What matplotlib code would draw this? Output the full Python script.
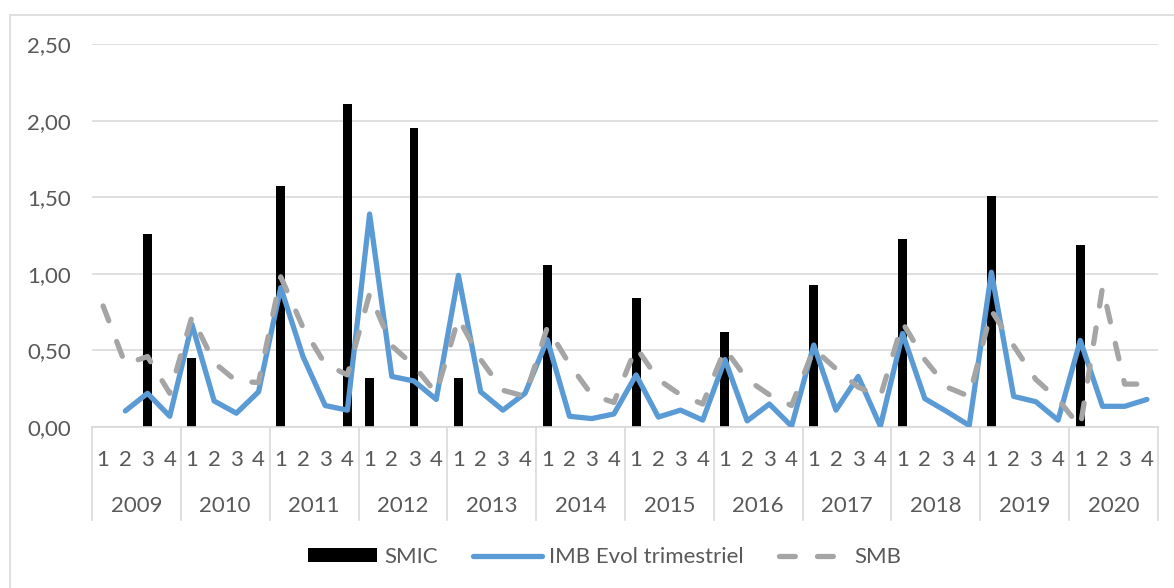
import matplotlib.pyplot as plt
from matplotlib.patches import Rectangle

plt.rcParams['font.family'] = ['Lato', 'DejaVu Sans']

years = ['2009', '2010', '2011', '2012', '2013', '2014',
         '2015', '2016', '2017', '2018', '2019', '2020']
quarters = ['1', '2', '3', '4']

# SMIC (bars), 0 = pas de barre
smic = [0, 0, 1.26, 0,
        0.45, 0, 0, 0,
        1.57, 0, 0, 2.11,
        0.32, 0, 1.95, 0,
        0.32, 0, 0, 0,
        1.06, 0, 0, 0,
        0.84, 0, 0, 0,
        0.62, 0, 0, 0,
        0.93, 0, 0, 0,
        1.23, 0, 0, 0,
        1.51, 0, 0, 0,
        1.19, 0, 0, 0]

imb = [None, 0.105, 0.22, 0.07,
       0.67, 0.17, 0.09, 0.23,
       0.91, 0.46, 0.14, 0.11,
       1.39, 0.33, 0.30, 0.18,
       0.99, 0.23, 0.11, 0.22,
       0.57, 0.07, 0.055, 0.085,
       0.34, 0.065, 0.11, 0.045,
       0.44, 0.04, 0.15, 0.005,
       0.535, 0.11, 0.33, 0.005,
       0.61, 0.185, 0.10, 0.01,
       1.01, 0.20, 0.165, 0.045,
       0.565, 0.135, 0.135, 0.18]

smb = [0.79, 0.41, 0.46, 0.22,
       0.72, 0.42, 0.30, 0.29,
       0.98, 0.65, 0.41, 0.34,
       0.87, 0.53, 0.40, 0.22,
       0.71, 0.44, 0.24, 0.20,
       0.65, 0.41, 0.21, 0.16,
       0.52, 0.31, 0.21, 0.15,
       0.51, 0.31, 0.21, 0.14,
       0.51, 0.38, 0.26, 0.20,
       0.68, 0.44, 0.26, 0.20,
       0.76, 0.53, 0.31, 0.18,
       0.00, 0.91, 0.28, 0.28]

x = list(range(len(smb)))
imb_plot = [float('nan') if v is None else v for v in imb]

txt = '#595959'
grid = '#D9D9D9'
fs = 16

fig = plt.figure(figsize=(11.74, 5.88), dpi=100)
ax = fig.add_axes([92/1174, 1-427/588, 1066/1174, 383/588])

b = ax.bar(x, smic, width=0.4, color='black', label='SMIC', zorder=2)
l1, = ax.plot(x, imb_plot, color='#5B9BD5', lw=3.8, solid_joinstyle='round',
              solid_capstyle='round', label='IMB Evol trimestriel', zorder=3)
l2, = ax.plot(x, smb, color='#A5A5A5', lw=3.8, dashes=(3.0, 4.2),
              dash_capstyle='round', dash_joinstyle='round', label='SMB', zorder=4)

ax.set_xlim(-0.5, len(x) - 0.5)
ax.set_ylim(0, 2.5)
ax.set_yticks([0, 0.5, 1.0, 1.5, 2.0, 2.5])
ax.set_yticklabels(['0,00', '0,50', '1,00', '1,50', '2,00', '2,50'])
ax.tick_params(axis='y', length=0, pad=15, labelsize=fs, labelcolor=txt)
ax.yaxis.grid(True, color=grid, lw=1.2, zorder=0)
ax.set_axisbelow(True)
ax.set_xticks([])

for s in ['top', 'right', 'left']:
    ax.spines[s].set_visible(False)
ax.spines['bottom'].set_color(grid)
ax.spines['bottom'].set_linewidth(1.2)

# axe des catégories à deux niveaux
tr = ax.get_xaxis_transform()
for k in range(len(years) + 1):
    ax.plot([k*4 - 0.5, k*4 - 0.5], [0, -93/383], transform=tr,
            color=grid, lw=1.2, clip_on=False)
for i in x:
    ax.text(i, -33/383, quarters[i % 4], transform=tr, ha='center',
            va='center', fontsize=fs, color=txt)
for k, yr in enumerate(years):
    ax.text(k*4 + 1.5, -79/383, yr, transform=tr, ha='center',
            va='center', fontsize=fs, color=txt)

fig.legend([b, l1, l2], ['SMIC', 'IMB Evol trimestriel', 'SMB'],
           loc='center', bbox_to_anchor=(605/1174, 1-557/588), ncol=3,
           frameon=False, fontsize=fs, labelcolor=txt, handlelength=3.1,
           handleheight=0.6, handletextpad=0.3, columnspacing=1.6)

fig.patches.append(Rectangle((10/1174, -0.05), 1.1, 1-15/588+0.05,
                             transform=fig.transFigure, fill=False,
                             edgecolor=grid, lw=1.2))

fig.savefig('out.png', dpi=100)
